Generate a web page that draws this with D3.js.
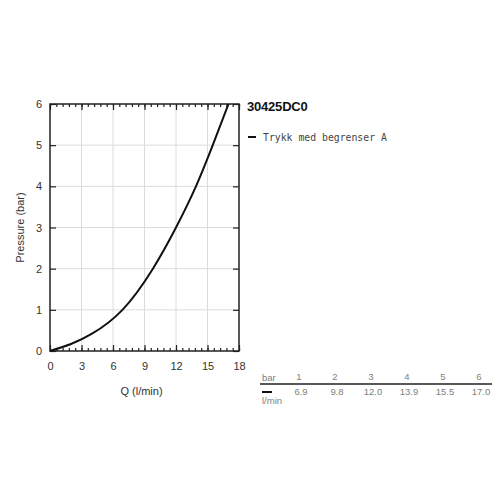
<!DOCTYPE html>
<head>
    <meta charset="utf-8">
    <script src="https://cdn.jsdelivr.net/npm/d3@7"></script>
    <style type="text/css">
        body { margin: 0; background: #fff; }
        svg { display: block; font-family: Arial, "Liberation Sans", sans-serif; }
        .grid line { stroke: #dcdcdc; stroke-width: 1px; }
        .tbl { fill: #808080; font-size: 9.5px; }
    </style>
</head>
<body>
    <div id="chart"></div>
</body>
</html>

<script type="text/javascript">
    // curve points (Q in l/min, pressure in bar)
    var flow     = [0, 2, 4, 6.9, 9.8, 12.0, 13.9, 15.5, 17.0];
    var pressure = [0, 0.17, 0.42, 1, 2, 3, 4, 5, 6];

    // table under the chart
    var tableBar  = [1, 2, 3, 4, 5, 6];
    var tableFlow = ["6.9", "9.8", "12.0", "13.9", "15.5", "17.0"];

    var xTicks = [0, 3, 6, 9, 12, 15, 18];
    var yTicks = [0, 1, 2, 3, 4, 5, 6];

    var width = 500, height = 500;
    // plot box (note: "top" is reserved on window, so use p*)
    var pLeft = 50, pRight = 239, pTop = 104, pBottom = 351;

    var svg = d3.select("#chart").append("svg")
        .attr("width", width)
        .attr("height", height);

    var x = d3.scaleLinear().domain([0, 18]).range([pLeft, pRight]);
    var y = d3.scaleLinear().domain([0, 6]).range([pBottom, pTop]);

    // grid
    var grid = svg.append("g").attr("class", "grid");
    grid.selectAll(".gx").data(xTicks.slice(1, -1)).enter().append("line")
        .attr("x1", function(d) { return x(d); }).attr("x2", function(d) { return x(d); })
        .attr("y1", pTop).attr("y2", pBottom);
    grid.selectAll(".gy").data(yTicks.slice(1, -1)).enter().append("line")
        .attr("y1", function(d) { return y(d); }).attr("y2", function(d) { return y(d); })
        .attr("x1", pLeft).attr("x2", pRight);

    // axes with inward ticks
    var minor = d3.range(0, 18.01, 0.6);
    svg.append("g").attr("transform", "translate(0," + pBottom + ")")
        .call(d3.axisBottom(x).tickValues(minor).tickSize(-3).tickFormat(""))
        .select(".domain").remove();
    svg.append("g").attr("transform", "translate(0," + pTop + ")")
        .call(d3.axisTop(x).tickValues(minor).tickSize(-3).tickFormat(""))
        .select(".domain").remove();

    var xAxis = svg.append("g").attr("transform", "translate(0," + pBottom + ")")
        .call(d3.axisBottom(x).tickValues(xTicks).tickSize(-6).tickPadding(11));
    xAxis.select(".domain").remove();
    svg.append("g").attr("transform", "translate(0," + pTop + ")")
        .call(d3.axisTop(x).tickValues(xTicks).tickSize(-6).tickFormat(""))
        .select(".domain").remove();

    var yAxis = svg.append("g").attr("transform", "translate(" + pLeft + ",0)")
        .call(d3.axisLeft(y).tickValues(yTicks).tickSize(-6).tickPadding(8).tickFormat(d3.format("d")));
    yAxis.select(".domain").remove();
    svg.append("g").attr("transform", "translate(" + pRight + ",0)")
        .call(d3.axisRight(y).tickValues(yTicks).tickSize(-6).tickFormat(""))
        .select(".domain").remove();

    svg.selectAll(".tick line").attr("stroke", "#222").attr("stroke-width", 1.2);
    svg.selectAll(".tick text")
        .style("font-family", "Arial, 'Liberation Sans', sans-serif")
        .style("font-size", "11px").attr("fill", "#333");

    // frame
    svg.append("rect")
        .attr("x", pLeft).attr("y", pTop)
        .attr("width", pRight - pLeft).attr("height", pBottom - pTop)
        .attr("fill", "none").attr("stroke", "#222").attr("stroke-width", 1.5);

    // curve
    var pts = flow.map(function(q, i) { return [q, pressure[i]]; });
    var line = d3.line()
        .x(function(d) { return x(d[0]); })
        .y(function(d) { return y(d[1]); })
        .curve(d3.curveNatural);
    svg.append("path")
        .datum(pts)
        .attr("d", line)
        .attr("fill", "none")
        .attr("stroke", "#111")
        .attr("stroke-width", 2);

    // axis titles
    svg.append("text")
        .attr("x", (pLeft + pRight) / 2 - 3).attr("y", 395)
        .attr("text-anchor", "middle")
        .attr("fill", "#333").style("font-size", "11px")
        .text("Q (l/min)");
    svg.append("text")
        .attr("transform", "translate(24," + ((pTop + pBottom) / 2) + ") rotate(-90)")
        .attr("text-anchor", "middle")
        .attr("fill", "#333").style("font-size", "11px")
        .text("Pressure (bar)");

    // title and legend
    svg.append("text")
        .attr("x", 247).attr("y", 111)
        .style("font-size", "13px").style("font-weight", "bold")
        .style("letter-spacing", "-0.2px")
        .attr("fill", "#111")
        .text("30425DC0");
    svg.append("line")
        .attr("x1", 248).attr("x2", 256).attr("y1", 137).attr("y2", 137)
        .attr("stroke", "#111").attr("stroke-width", 2);
    svg.append("text")
        .attr("x", 263).attr("y", 141)
        .style("font-family", "'DejaVu Sans Mono', monospace").style("font-size", "9.8px")
        .attr("fill", "#444")
        .text("Trykk med begrenser A");

    // table
    var col = d3.scalePoint().domain(tableBar).range([299, 479]);
    svg.append("text").attr("class", "tbl").attr("x", 262).attr("y", 381).text("bar");
    svg.append("text").attr("class", "tbl").attr("x", 262).attr("y", 404).text("l/min");
    svg.append("line")
        .attr("x1", 260).attr("x2", 492).attr("y1", 384).attr("y2", 384)
        .attr("stroke", "#222").attr("stroke-width", 1.5);
    svg.append("line")
        .attr("x1", 262).attr("x2", 272).attr("y1", 392).attr("y2", 392)
        .attr("stroke", "#111").attr("stroke-width", 2);
    svg.selectAll(".tb").data(tableBar).enter().append("text")
        .attr("class", "tbl")
        .attr("x", function(d) { return col(d); }).attr("y", 380)
        .attr("text-anchor", "middle")
        .text(function(d) { return d; });
    svg.selectAll(".tf").data(tableFlow).enter().append("text")
        .attr("class", "tbl")
        .attr("x", function(d, i) { return col(tableBar[i]) + 2; }).attr("y", 395)
        .attr("text-anchor", "middle")
        .text(function(d) { return d; });
</script>
